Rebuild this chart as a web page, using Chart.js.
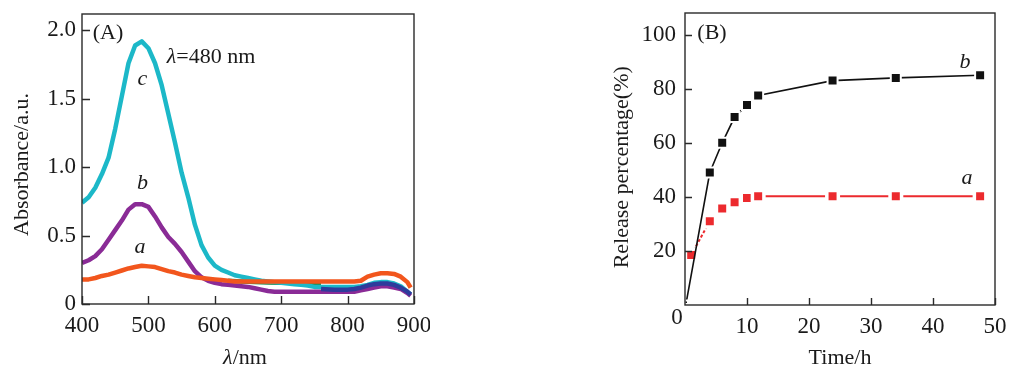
<!DOCTYPE html>
<html><head><meta charset="utf-8">
<script src="https://cdn.jsdelivr.net/npm/chart.js@4.4.1/dist/chart.umd.min.js"></script>
<style>
html,body{margin:0;padding:0;background:#fff;}
body{width:1015px;height:374px;position:relative;overflow:hidden;}
canvas{position:absolute;top:0;}
#ca{left:0;} #cb{left:590px;}
</style></head><body>
<canvas id="ca" width="430" height="374"></canvas>
<canvas id="cb" width="425" height="374"></canvas>
<script>
// ---------- Panel A data ----------
const wavelengths = [400,410,420,430,440,450,460,470,480,490,500,510,520,530,540,550,560,570,580,590,600,610,620,630,640,650,660,670,680,690,700,710,720,730,740,750,760,770,780,790,800,810,820,830,840,850,860,870,880,890,895];
const absorbanceA = [0.18,0.18,0.19,0.205,0.215,0.23,0.245,0.26,0.27,0.28,0.275,0.27,0.255,0.24,0.23,0.215,0.205,0.195,0.19,0.185,0.18,0.175,0.17,0.165,0.165,0.165,0.165,0.165,0.165,0.165,0.165,0.165,0.165,0.165,0.165,0.165,0.165,0.165,0.165,0.165,0.165,0.165,0.17,0.20,0.215,0.225,0.225,0.22,0.20,0.16,0.12];
const absorbanceB = [0.30,0.32,0.35,0.40,0.47,0.54,0.61,0.69,0.73,0.73,0.71,0.64,0.56,0.49,0.44,0.38,0.31,0.24,0.195,0.17,0.155,0.145,0.14,0.135,0.13,0.125,0.115,0.105,0.095,0.09,0.09,0.09,0.09,0.09,0.09,0.09,0.09,0.09,0.09,0.09,0.09,0.09,0.10,0.11,0.12,0.13,0.13,0.12,0.11,0.08,0.06];
const absorbanceC = [0.74,0.78,0.85,0.95,1.07,1.28,1.52,1.76,1.89,1.92,1.87,1.76,1.60,1.39,1.18,0.96,0.78,0.58,0.43,0.34,0.28,0.25,0.23,0.21,0.20,0.19,0.18,0.17,0.165,0.16,0.155,0.15,0.145,0.14,0.135,0.125,0.125,0.125,0.125,0.125,0.125,0.125,0.13,0.14,0.155,0.16,0.16,0.15,0.13,0.09,0.07];
const greenWavelengths = [620,640,660,680,700,720,740,760];
const absorbanceGreen = [0.17,0.165,0.16,0.158,0.155,0.155,0.152,0.15];
const navyWavelengths = [760,780,800,810,820,830,840,850,860,870,880,890,895];
const absorbanceNavy = [0.11,0.105,0.105,0.11,0.12,0.135,0.145,0.15,0.15,0.14,0.12,0.09,0.07];
const xTicksA = [400,500,600,700,800,900];
const yTicksA = [0,0.5,1.0,1.5,2.0];

// ---------- Panel B data ----------
const timesB = [0.2,4,6,8,10,11.8,23.8,34,47.6];
const releaseB = [1,49,60,69.5,74,77.5,83,84,85];
const timesA = [1,4,6,8,10,11.8,23.8,34,47.6];
const releaseA = [18.5,31,35.7,38,39.6,40.2,40.2,40.2,40.2];
const xTicksB = [10,20,30,40,50];
const yTicksB = [20,40,60,80,100];

const FONT = "'Liberation Serif','Times New Roman',serif";
const TXT = '#1a1a1a';

function pts(xs, ys){ return xs.map((x,i)=>({x:x, y:ys[i]})); }

function drawMixed(ctx, parts, cx, cy, size){
  ctx.save();
  ctx.textBaseline = 'middle';
  ctx.textAlign = 'left';
  ctx.fillStyle = TXT;
  let total = 0;
  parts.forEach(p=>{ ctx.font = (p[1]?'italic ':'') + size + 'px ' + FONT; p.w = ctx.measureText(p[0]).width; total += p.w; });
  let x = cx - total/2;
  parts.forEach(p=>{ ctx.font = (p[1]?'italic ':'') + size + 'px ' + FONT; ctx.fillText(p[0], x, cy); x += p.w; });
  ctx.restore();
}

function frameTicks(len){
  return {
    id:'frameTicks',
    afterDraw(chart){
      const {ctx, chartArea:a, scales} = chart;
      ctx.save();
      ctx.strokeStyle = '#2a2a2a';
      ctx.lineWidth = 1.4;
      ctx.strokeRect(a.left, a.top, a.right-a.left, a.bottom-a.top);
      ctx.beginPath();
      scales.x.ticks.forEach(t=>{
        const px = Math.round(scales.x.getPixelForValue(t.value))+0.5;
        ctx.moveTo(px, a.bottom); ctx.lineTo(px, a.bottom-len);
      });
      scales.y.ticks.forEach(t=>{
        const py = Math.round(scales.y.getPixelForValue(t.value))+0.5;
        ctx.moveTo(a.left, py); ctx.lineTo(a.left+len, py);
      });
      ctx.stroke();
      ctx.restore();
    }
  };
}

const annotA = {
  id:'annotA',
  afterDraw(chart){
    const ctx = chart.ctx;
    drawMixed(ctx, [['(A)',false]], 108, 33, 22);
    drawMixed(ctx, [['λ',true],['=480 nm',false]], 211, 57, 22);
    drawMixed(ctx, [['c',true]], 142.5, 79, 22);
    drawMixed(ctx, [['b',true]], 142.5, 183, 22);
    drawMixed(ctx, [['a',true]], 140, 247, 22);
    drawMixed(ctx, [['λ',true],['/nm',false]], 245, 358, 22);
  }
};
const annotB = {
  id:'annotB',
  afterDraw(chart){
    const ctx = chart.ctx;
    drawMixed(ctx, [['(B)',false]], 122, 33, 22);
    drawMixed(ctx, [['b',true]], 375, 62, 22);
    drawMixed(ctx, [['a',true]], 377, 178, 22);
    drawMixed(ctx, [['0',false]], 87, 318, 23);
  }
};

const lineA = (label, xs, ys, color) => ({
  label, data: pts(xs, ys), borderColor: color, backgroundColor: color,
  borderWidth: 4.5, pointRadius: 0, tension: 0, fill: false,
  borderCapStyle: 'butt', borderJoinStyle: 'round'
});

const tickFont = { family: FONT, size: 23 };
const titleFont = { family: FONT, size: 22 };

function fitX(h){ return s => { s.height = h; s.paddingLeft = 0; s.paddingRight = 0; s.paddingTop = 0; s.paddingBottom = 0; }; }
function fitY(w){ return s => { s.width = w; s.paddingLeft = 0; s.paddingRight = 0; s.paddingTop = 0; s.paddingBottom = 0; }; }

new Chart(document.getElementById('ca'), {
  type: 'line',
  data: { datasets: [
    lineA('a', wavelengths, absorbanceA, '#f2561d'),
    lineA('navy', navyWavelengths, absorbanceNavy, '#2e3b9c'),
    lineA('b', wavelengths, absorbanceB, '#8a2b96'),
    lineA('c', wavelengths, absorbanceC, '#1cb8c8'),
    lineA('green', greenWavelengths, absorbanceGreen, '#1f8a4c')
  ]},
  options: {
    responsive: false, animation: false, events: [],
    layout: { autoPadding: false, padding: { top: 14, right: 16, left: 0, bottom: 0 } },
    plugins: { legend: { display: false }, tooltip: { enabled: false } },
    scales: {
      x: { type: 'linear', min: 400, max: 900,
        afterBuildTicks: s => { s.ticks = xTicksA.map(v => ({value: v})); },
        afterFit: fitX(70),
        grid: { display: false, drawTicks: false }, border: { display: false },
        ticks: { padding: 8, color: TXT, font: tickFont, maxRotation: 0, autoSkip: false },
        title: { display: false }
      },
      y: { type: 'linear', min: 0, max: 2.12,
        afterBuildTicks: s => { s.ticks = yTicksA.map(v => ({value: v})); },
        afterFit: fitY(82),
        grid: { display: false, drawTicks: false }, border: { display: false },
        ticks: { padding: 6, color: TXT, font: tickFont, autoSkip: false,
          callback: v => v === 0 ? '0' : Number(v).toFixed(1) },
        title: { display: true, text: 'Absorbance/a.u.  ', color: TXT, font: titleFont, padding: { top: 9, bottom: 0 } }
      }
    }
  },
  plugins: [frameTicks(8), annotA]
});

const markerDs = (label, xs, ys, color, lw, side, gap, dash) => ({
  label, data: pts(xs, ys), borderColor: color, backgroundColor: color,
  borderWidth: lw, tension: 0, fill: false,
  pointStyle: 'rect',
  pointRadius: c => (label === 'b' && c.dataIndex === 0) ? 2.5 : side / Math.SQRT2,
  pointBackgroundColor: color, pointBorderColor: '#ffffff', pointBorderWidth: gap,
  segment: dash ? { borderDash: c => c.p0DataIndex === 0 ? [3, 2] : undefined } : undefined
});

new Chart(document.getElementById('cb'), {
  type: 'line',
  data: { datasets: [
    markerDs('b', timesB, releaseB, '#111111', 1.6, 10, 2, false),
    markerDs('a', timesA, releaseA, '#ec2a2e', 2, 11.5, 3.5, true)
  ]},
  options: {
    responsive: false, animation: false, events: [],
    layout: { autoPadding: false, padding: { top: 13, right: 20, left: 0, bottom: 0 } },
    plugins: { legend: { display: false }, tooltip: { enabled: false } },
    scales: {
      x: { type: 'linear', min: 0, max: 50,
        afterBuildTicks: s => { s.ticks = xTicksB.map(v => ({value: v})); },
        afterFit: fitX(69),
        grid: { display: false, drawTicks: false }, border: { display: false },
        ticks: { padding: 8, color: TXT, font: tickFont, maxRotation: 0, autoSkip: false },
        title: { display: true, text: 'Time/h', color: TXT, font: titleFont, padding: { top: 0, bottom: 3 } }
      },
      y: { type: 'linear', min: 0, max: 108,
        afterBuildTicks: s => { s.ticks = yTicksB.map(v => ({value: v})); },
        afterFit: fitY(95),
        grid: { display: false, drawTicks: false }, border: { display: false },
        ticks: { padding: 9, color: TXT, font: tickFont, autoSkip: false },
        title: { display: true, text: 'Release percentage(%)   ', color: TXT, font: titleFont, padding: { top: 19, bottom: 0 } }
      }
    }
  },
  plugins: [frameTicks(7), annotB]
});
</script>
</body></html>
